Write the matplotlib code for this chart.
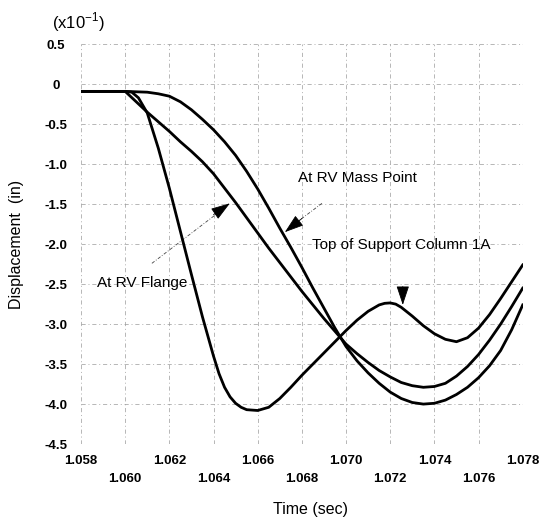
import matplotlib
matplotlib.use("Agg")
import matplotlib.pyplot as plt
from matplotlib.ticker import FixedLocator, FixedFormatter

plt.rcParams['font.family'] = ['Liberation Sans', 'DejaVu Sans']

# ---- data (displacement in units of 1e-1 in) ----
# curve with the early deep dip and hump (arrow "Top of Support Column 1A")
time_fast = [1.0580, 1.0600, 1.0603, 1.0606, 1.0610, 1.0615, 1.0620, 1.0625, 1.0630, 1.0635,
             1.0640, 1.06425, 1.0645, 1.06475, 1.0650, 1.06525, 1.0655, 1.0660, 1.0665, 1.0670,
             1.0675, 1.0680, 1.0685, 1.0690, 1.0695, 1.0700, 1.0705, 1.0710, 1.0715, 1.07175,
             1.0720, 1.07225, 1.0725, 1.0730, 1.0735, 1.0740, 1.0745, 1.0750, 1.0755, 1.0760,
             1.0765, 1.0770, 1.0775, 1.0780]
disp_fast = [-0.09, -0.09, -0.10, -0.17, -0.36, -0.80, -1.30, -1.84, -2.38, -2.91,
             -3.40, -3.62, -3.79, -3.91, -3.99, -4.04, -4.07, -4.08, -4.04, -3.93,
             -3.79, -3.64, -3.50, -3.36, -3.22, -3.08, -2.95, -2.84, -2.76, -2.74,
             -2.735, -2.75, -2.79, -2.90, -3.02, -3.12, -3.19, -3.22, -3.17, -3.05,
             -2.88, -2.68, -2.47, -2.26]

time = [1.0580, 1.0585, 1.0590, 1.0595, 1.0600, 1.0605, 1.0610, 1.0615, 1.0620, 1.0625,
        1.0630, 1.0635, 1.0640, 1.0645, 1.0650, 1.0655, 1.0660, 1.0665, 1.0670, 1.0675,
        1.0680, 1.0685, 1.0690, 1.0695, 1.0700, 1.0705, 1.0710, 1.0715, 1.0720, 1.0725,
        1.0730, 1.0735, 1.0740, 1.0745, 1.0750, 1.0755, 1.0760, 1.0765, 1.0770, 1.0775,
        1.0780]

# nearly straight curve (arrow "At RV Flange")
disp_mid = [-0.09, -0.09, -0.09, -0.09, -0.09, -0.22, -0.35, -0.47, -0.59, -0.72,
            -0.84, -0.97, -1.12, -1.30, -1.48, -1.67, -1.86, -2.05, -2.23, -2.41,
            -2.59, -2.76, -2.93, -3.09, -3.25, -3.37, -3.48, -3.58, -3.66, -3.73,
            -3.77, -3.79, -3.78, -3.74, -3.65, -3.53, -3.38, -3.20, -3.00, -2.78,
            -2.55]

# slowest-starting curve (arrow "At RV Mass Point")
disp_slow = [-0.09, -0.09, -0.09, -0.09, -0.09, -0.095, -0.10, -0.12, -0.15, -0.22,
             -0.32, -0.44, -0.57, -0.72, -0.89, -1.09, -1.31, -1.55, -1.80, -2.04,
             -2.29, -2.55, -2.80, -3.05, -3.28, -3.46, -3.61, -3.74, -3.85, -3.93,
             -3.98, -4.00, -3.99, -3.95, -3.88, -3.79, -3.67, -3.52, -3.33, -3.07,
             -2.76]

x_major = [1.058, 1.062, 1.066, 1.070, 1.074, 1.078]
x_minor = [1.060, 1.064, 1.068, 1.072, 1.076]
y_ticks = [0.5, 0, -0.5, -1.0, -1.5, -2.0, -2.5, -3.0, -3.5, -4.0, -4.5]
y_labels = ['0.5', '0', '-0.5', '-1.0', '-1.5', '-2.0', '-2.5', '-3.0', '-3.5', '-4.0', '-4.5']

fig = plt.figure(figsize=(5.4, 5.2), dpi=100)
ax = fig.add_axes([0.150, 0.146, 0.818, 0.769])

ax.plot(time_fast, disp_fast, color='black', lw=2.0, zorder=3)
ax.plot(time, disp_mid, color='black', lw=2.0, zorder=3)
ax.plot(time, disp_slow, color='black', lw=2.0, zorder=3)

ax.set_xlim(1.058, 1.078)
ax.set_ylim(-4.5, 0.5)

for s in ax.spines.values():
    s.set_visible(False)

ax.xaxis.set_major_locator(FixedLocator(x_major))
ax.xaxis.set_major_formatter(FixedFormatter([f"{v:.3f}" for v in x_major]))
ax.xaxis.set_minor_locator(FixedLocator(x_minor))
ax.xaxis.set_minor_formatter(FixedFormatter([f"{v:.3f}" for v in x_minor]))
ax.set_yticks(y_ticks)
ax.set_yticklabels(y_labels)

ax.tick_params(axis='x', which='major', length=0, pad=8, labelsize=9.5)
ax.tick_params(axis='x', which='minor', length=0, pad=21, labelsize=9.5)
ax.tick_params(axis='y', length=0, pad=18, labelsize=9.5)
for lab in ax.get_yticklabels():
    lab.set_horizontalalignment('center')
    lab.set_fontweight('bold')
for lab in ax.get_xticklabels(which='both'):
    lab.set_fontweight('bold')

ax.grid(True, which='both', color='#9a9a9a', lw=0.5, linestyle=(0, (6, 4, 1.5, 4)))
ax.set_axisbelow(True)

ax.set_xlabel('Time (sec)', fontsize=11.5)
ax.xaxis.set_label_coords(0.52, -0.145)
ax.set_ylabel('Displacement  (in)', fontsize=11.5)
ax.yaxis.set_label_coords(-0.13, 0.5)

fig.text(0.096, 0.957, r'(x10$^{\mathregular{-1}}$)', fontsize=12, ha='left', va='center')

# annotations
ax.text(1.05872, -2.49, 'At RV Flange', fontsize=11, ha='left', va='center')
ax.text(1.06782, -1.175, 'At RV Mass Point', fontsize=11, ha='left', va='center')
ax.text(1.06845, -2.01, 'Top of Support Column 1A', fontsize=11, ha='left', va='center')

head = '-|>,head_length=1.2,head_width=0.4'
# RV flange: thin dashed leader + head
ax.plot([1.06121, 1.06415], [-2.24, -1.62], color='#444444', lw=0.6, linestyle=(0, (4, 2, 1, 2)))
ax.annotate('', xy=(1.06474, -1.49), xytext=(1.06400, -1.63),
            arrowprops=dict(arrowstyle=head, color='black', lw=0.6, shrinkA=0, shrinkB=0))
# RV mass point
ax.plot([1.06891, 1.06790], [-1.49, -1.70], color='#444444', lw=0.6, linestyle=(0, (4, 2, 1, 2)))
ax.annotate('', xy=(1.06723, -1.85), xytext=(1.06800, -1.68),
            arrowprops=dict(arrowstyle=head, color='black', lw=0.6, shrinkA=0, shrinkB=0))
# top of support column: head only
ax.annotate('', xy=(1.07257, -2.76), xytext=(1.07257, -2.53),
            arrowprops=dict(arrowstyle=head, color='black', lw=0.6, shrinkA=0, shrinkB=0))

fig.savefig('out.png', dpi=100, facecolor='white')
